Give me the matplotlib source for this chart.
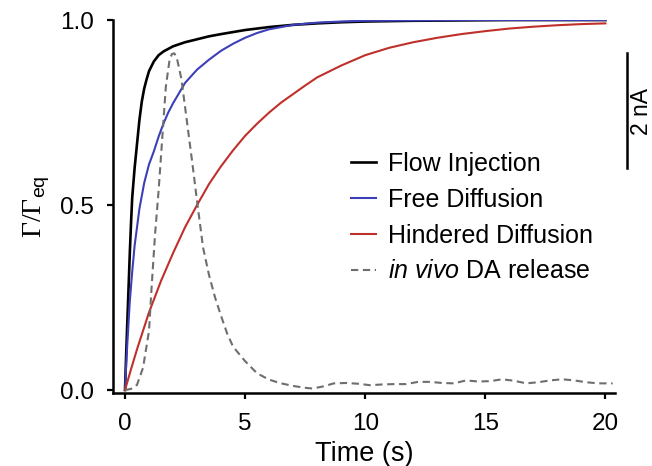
import numpy as np
import matplotlib
matplotlib.use("Agg")
import matplotlib.pyplot as plt
from matplotlib.lines import Line2D

plt.rcParams['font.family'] = ['Liberation Sans', 'DejaVu Sans']
plt.rcParams['mathtext.fontset'] = 'custom'
plt.rcParams['mathtext.rm'] = 'Liberation Serif'
plt.rcParams['mathtext.it'] = 'Liberation Sans:italic'
plt.rcParams['mathtext.sf'] = 'Liberation Sans'

# Flow injection (black)
t_flow = [0, 0.05, 0.1, 0.15, 0.2, 0.25, 0.3, 0.4, 0.5, 0.6, 0.7, 0.8, 0.9, 1.0, 1.2, 1.4,
          1.6, 1.8, 2.0, 2.5, 3.0, 3.5, 4.0, 5.0, 6.0, 7.0, 8.0, 9.0, 10, 12, 14, 16, 18, 20]
v_flow = [0, 0.10, 0.19, 0.28, 0.37, 0.45, 0.52, 0.60, 0.665, 0.73, 0.78, 0.815, 0.84, 0.862, 0.888, 0.905,
          0.915, 0.922, 0.929, 0.94, 0.948, 0.956, 0.962, 0.973, 0.981, 0.987, 0.991, 0.994, 0.996, 0.998, 0.999, 1.0, 1.0, 1.0]

# Free diffusion (blue)
t_free = [0, 0.05, 0.1, 0.2, 0.3, 0.4, 0.5, 0.6, 0.8, 1.0, 1.2, 1.4, 1.6, 1.8, 2.0, 2.5, 3.0,
          3.5, 4.0, 4.5, 5.0, 5.5, 6.0, 7, 8, 9, 10, 12, 14, 16, 18, 20]
v_free = [0, 0.07, 0.13, 0.24, 0.32, 0.39, 0.44, 0.49, 0.56, 0.61, 0.645, 0.685, 0.72, 0.75, 0.775, 0.83, 0.866,
          0.893, 0.917, 0.936, 0.952, 0.965, 0.975, 0.987, 0.993, 0.996, 0.998, 0.999, 1.0, 1.0, 1.0, 1.0]

# Hindered diffusion (red)
t_hind = [0, 0.25, 0.5, 1, 1.5, 2, 2.5, 3, 3.5, 4, 4.5, 5, 5.5, 6, 6.5, 7, 7.5, 8, 9, 10, 11, 12, 13, 14,
          15, 16, 17, 18, 19, 20]
v_hind = [0, 0.056, 0.11, 0.21, 0.295, 0.37, 0.44, 0.50, 0.557, 0.605, 0.648, 0.687, 0.72, 0.75, 0.777, 0.80,
          0.823, 0.845, 0.877, 0.905, 0.925, 0.94, 0.952, 0.962, 0.97, 0.977, 0.982, 0.986, 0.989, 0.991]

# in vivo DA release (grey dashed)
t_vivo = [0, 0.25, 0.5, 0.75, 1.0, 1.1, 1.25, 1.4, 1.55, 1.7, 1.85, 1.95, 2.05, 2.15, 2.35, 2.55, 2.8,
          3.0, 3.25, 3.5, 3.75, 4.0, 4.25, 4.5, 5.0, 5.5, 6.0, 6.5, 7.0, 7.5, 7.8, 8.2, 8.7, 9.2, 9.7,
          10.2, 10.7, 11.2, 11.7, 12.2, 12.7, 13.2, 13.7, 14.2, 14.7, 15.2, 15.7, 16.2, 16.7, 17.2,
          17.7, 18.2, 18.7, 19.2, 19.7, 20.3]
v_vivo = [0, 0.003, 0.014, 0.06, 0.16, 0.27, 0.42, 0.54, 0.68, 0.82, 0.89, 0.908, 0.91, 0.90, 0.84, 0.74, 0.615,
          0.51, 0.385, 0.31, 0.25, 0.20, 0.153, 0.117, 0.078, 0.045, 0.028, 0.018, 0.011, 0.006, 0.004, 0.009,
          0.018, 0.019, 0.017, 0.013, 0.015, 0.016, 0.016, 0.022, 0.022, 0.019, 0.018, 0.026, 0.023, 0.024,
          0.029, 0.025, 0.018, 0.021, 0.026, 0.029, 0.026, 0.021, 0.018, 0.018]

labels = ['Flow Injection', 'Free Diffusion', 'Hindered Diffusion', r'$\mathit{in\ vivo}$ DA release']

fig = plt.figure(figsize=(6.52, 4.66), dpi=100)
ax = fig.add_axes([0.1733, 0.1567, 0.77, 0.8003])

ax.plot(t_flow, v_flow, color='black', lw=1.9, label=labels[0])
ax.plot(t_free, v_free, color='#3c3fb8', lw=1.5, label=labels[1])
ax.plot(t_hind, v_hind, color='#c0302a', lw=1.5, label=labels[2])
ax.plot(t_vivo, v_vivo, color='#6e6e6e', lw=1.5, dashes=(3.5, 2.2), label=labels[3])

ax.set_xlim(-0.5, 20.4)
ax.set_ylim(-0.008, 1.0)
ax.set_xticks([0, 5, 10, 15, 20])
ax.set_yticks([0.0, 0.5, 1.0])
ax.set_yticklabels(['0.0', '0.5', '1.0'])

for s in ['top', 'right']:
    ax.spines[s].set_visible(False)
for s in ['left', 'bottom']:
    ax.spines[s].set_linewidth(1.8)
ax.tick_params(direction='out', length=4.5, width=1.6, labelsize=17.5)
ax.tick_params(axis='x', pad=10)
ax.tick_params(axis='y', pad=9)

ax.set_xlabel('Time (s)', fontsize=19.5, labelpad=4)
ax.set_ylabel(r'$\mathrm{\Gamma/\Gamma}_{\mathsf{eq}}$', fontsize=20, labelpad=6)

ax.legend(loc='upper left', bbox_to_anchor=(0.523, 0.695), bbox_transform=fig.transFigure,
          frameon=False, fontsize=18, handlelength=1.0, handletextpad=0.5,
          labelspacing=0.47, borderaxespad=0)

# 2 nA scale bar
fig.add_artist(Line2D([627 / 652, 627 / 652], [0.639, 0.886], color='black', lw=1.8))
fig.text(630 / 652, 0.76, '2 nA', rotation=90, ha='left', va='center', fontsize=16.5)

fig.savefig('out.png', dpi=100)
